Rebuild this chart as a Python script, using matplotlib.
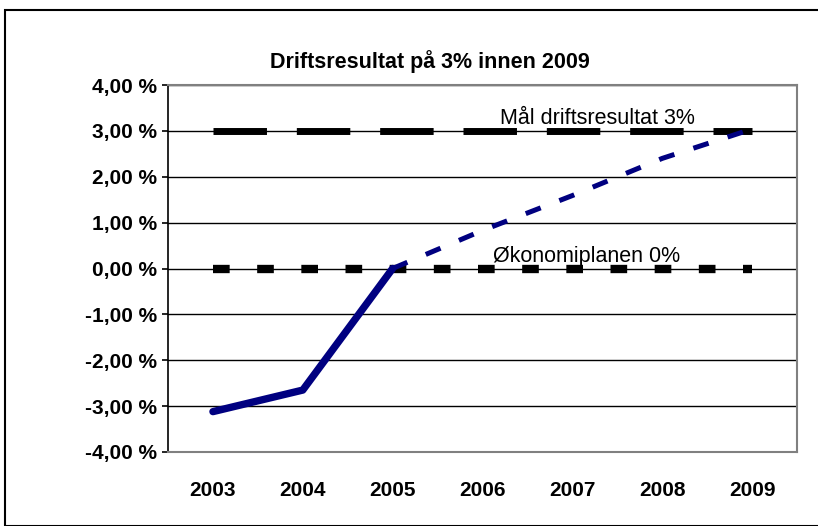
import matplotlib.pyplot as plt
from matplotlib.patches import Rectangle

plt.rcParams["font.family"] = ["Liberation Sans", "DejaVu Sans"]

years = ["2003", "2004", "2005", "2006", "2007", "2008", "2009"]
actual = [-3.12, -2.65, 0.0]
forecast = [0.0, 0.83, 1.59, 2.40, 3.04]
target = [3.0, 3.0, 3.0, 3.0, 3.0, 3.0, 3.0]
plan = [0.0, 0.0, 0.0, 0.0, 0.0, 0.0, 0.0]

fig = plt.figure(figsize=(8.18, 5.26), dpi=100)
ax = fig.add_axes([168 / 818, 1 - 452 / 526, 629 / 818, 367 / 526])

# outer chart border
fig.patches.append(Rectangle((5 / 818, 0), 1.0, 1 - 10 / 526, transform=fig.transFigure,
                             fill=False, edgecolor="black", linewidth=1.5))

x = list(range(len(years)))
for yv in range(-4, 5):
    ax.axhline(yv, color="black", linewidth=1, zorder=1)

ax.plot(x, target, color="black", linewidth=5, dashes=(7.7, 4.3), zorder=3)
ax.plot(x, plan, color="black", linewidth=6, dashes=(2.0, 3.3), zorder=3)
ax.plot(x[:3], actual, color="#000080", linewidth=5.3, solid_capstyle="round", zorder=4)
ax.plot(x[2:], forecast, color="#000080", linewidth=3.6, dashes=(3.2, 4.0), zorder=4)

ax.text(3.2, 3.05, "Mål driftsresultat 3%", fontsize=15.5, va="bottom", ha="left")
ax.text(3.12, 0.03, "Økonomiplanen 0%", fontsize=15.5, va="bottom", ha="left")

ax.set_xlim(-0.5, 6.5)
ax.set_ylim(-4, 4)
ax.set_xticks(x)
ax.set_xticklabels(years, fontsize=15, fontweight="bold")
ax.tick_params(axis="x", length=0, pad=21)
ax.set_yticks(range(-4, 5))
ax.set_yticklabels([f"{v},00 %" for v in range(-4, 5)], fontsize=15, fontweight="bold")
ax.tick_params(axis="y", length=4, width=1.2, pad=4)

for side in ["top", "right", "bottom"]:
    ax.spines[side].set_color("#808080")
    ax.spines[side].set_linewidth(1.5)
ax.spines["left"].set_linewidth(1.2)

fig.text(430 / 818, 1 - 62 / 526, "Driftsresultat på 3% innen 2009",
         fontsize=15.5, fontweight="bold", ha="center", va="center")

fig.savefig("out.png", dpi=100)
